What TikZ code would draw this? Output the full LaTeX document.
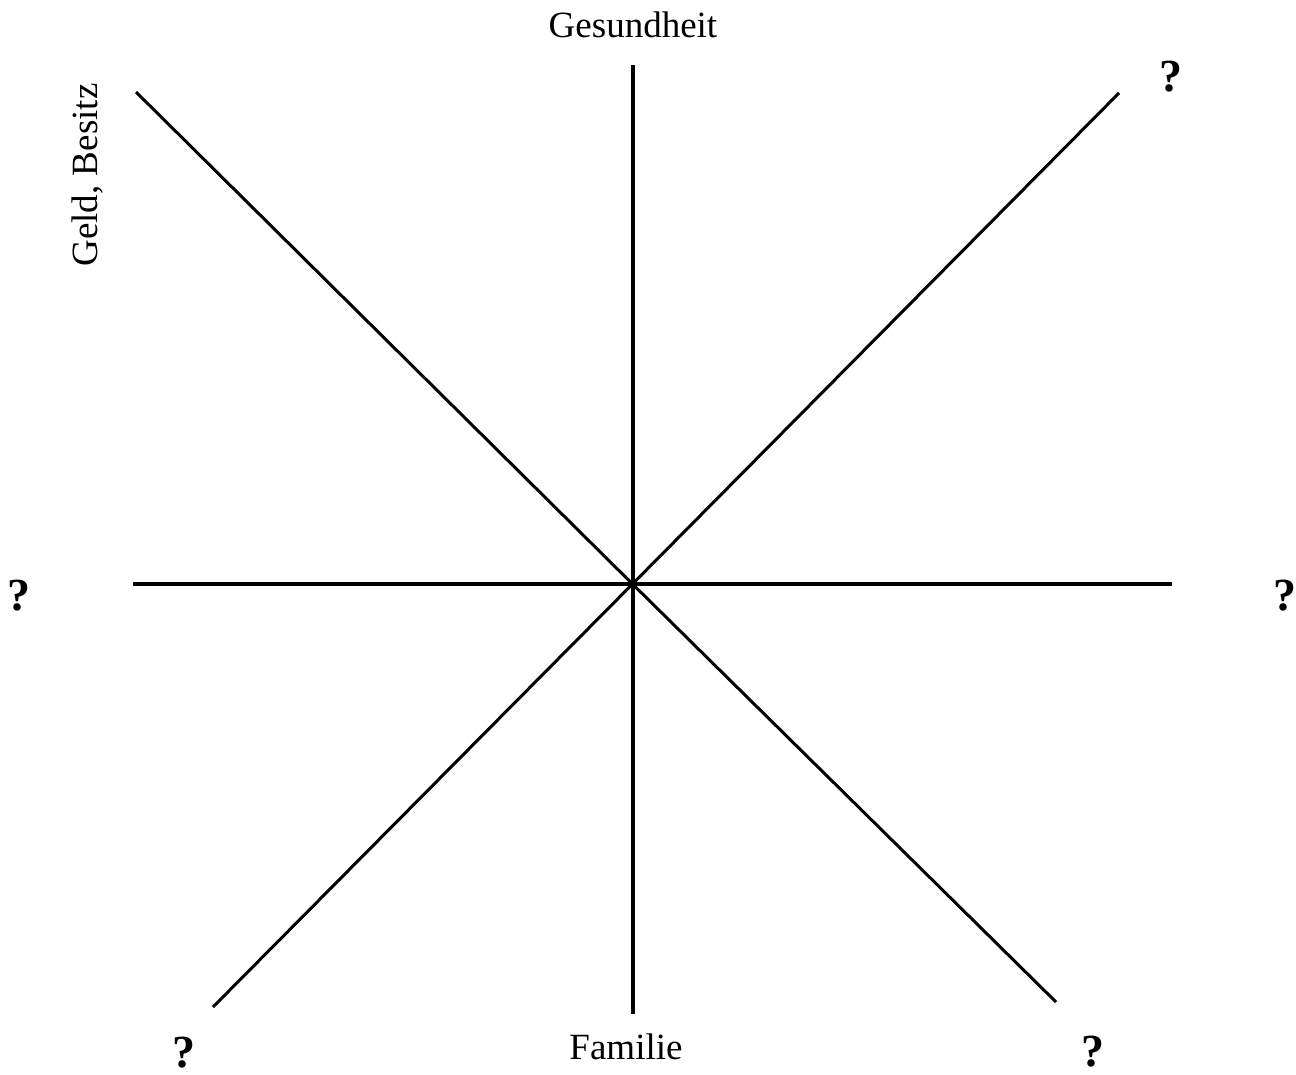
\documentclass[tikz,border=0pt]{standalone}
\usepackage{fontspec}
\setmainfont{Liberation Serif}
\usepackage{tikz}
\usetikzlibrary{calc}
\tikzstyle{axis} = [line width=4pt]
\tikzstyle{diag} = [line width=3pt]
\tikzstyle{lab} = [inner sep=0pt, anchor=base, font=\fontsize{37}{44}\selectfont]
\tikzstyle{ask} = [inner sep=0pt, anchor=base, font=\fontsize{46}{54}\selectfont\bfseries]

\begin{document}
\begin{tikzpicture}[x=1pt,y=-1pt]
\useasboundingbox (0,0) rectangle (1296,1075);

\coordinate (c) at (632.5,584);
% ends of the eight rays
\coordinate (n) at (632.5,65);
\coordinate (s) at (632.5,1014);
\coordinate (w) at (133,584);
\coordinate (e) at (1172,584);
\coordinate (nw) at (136,92);
\coordinate (ne) at (1119,93);
\coordinate (sw) at (213,1007);
\coordinate (se) at (1056,1002);

\foreach \p in {n,s,w,e} {
    \draw[axis] (c) -- (\p);
}
\foreach \p in {nw,ne,sw,se} {
    \draw[diag] (c) -- (\p);
}

\node[lab] (gesund) at (633,38) {Gesundheit};
\node[lab] (familie) at (626,1059) {Familie};
\node[lab, rotate=90] (geld) at (97,175) {Geld, Besitz};

\node[ask] (qne) at (1171,92) {?};
\node[ask] (qw) at (18.5,610) {?};
\node[ask] (qe) at (1285,610) {?};
\node[ask] (qsw) at (184,1067) {?};
\node[ask] (qse) at (1093,1066) {?};
\end{tikzpicture}
\end{document}
